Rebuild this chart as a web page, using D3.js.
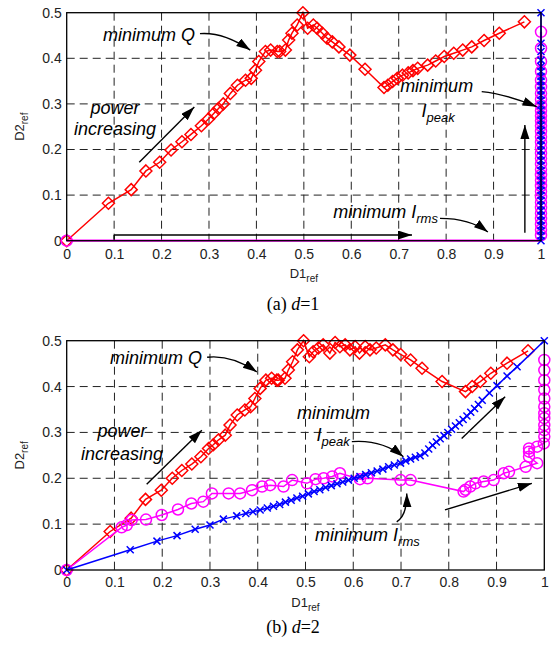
<!DOCTYPE html>
<html><head><meta charset="utf-8">
<script src="https://cdn.jsdelivr.net/npm/d3@7"></script>
<style>body{margin:0;background:#fff}svg{display:block}</style>
</head><body>
<script>
// ---------- DATA ----------
const xTicks = [0,0.1,0.2,0.3,0.4,0.5,0.6,0.7,0.8,0.9,1];
const xTickLabels = ["0","0.1","0.2","0.3","0.4","0.5","0.6","0.7","0.8","0.9","1"];
const yTicks = [0,0.1,0.2,0.3,0.4,0.5];
const yTickLabels = ["0","0.1","0.2","0.3","0.4","0.5"];

// (a) d=1 : minimum Q (red diamonds)
const d1Q = [[0,0],[0.088,0.082],[0.136,0.112],[0.167,0.153],[0.196,0.172],[0.22,0.199],[0.243,0.217],[0.262,0.233],[0.284,0.252],[0.299,0.267],[0.31,0.279],[0.32,0.29],[0.33,0.3],[0.345,0.323],[0.36,0.341],[0.377,0.352],[0.389,0.356],[0.398,0.374],[0.405,0.393],[0.419,0.415],[0.43,0.418],[0.444,0.415],[0.449,0.415],[0.461,0.418],[0.468,0.44],[0.475,0.455],[0.486,0.473],[0.498,0.5],[0.508,0.466],[0.52,0.473],[0.528,0.466],[0.539,0.455],[0.549,0.444],[0.56,0.436],[0.574,0.425],[0.597,0.407],[0.629,0.376],[0.669,0.336],[0.677,0.341],[0.687,0.349],[0.697,0.356],[0.708,0.363],[0.72,0.368],[0.73,0.373],[0.74,0.378],[0.761,0.385],[0.778,0.394],[0.796,0.404],[0.816,0.411],[0.835,0.418],[0.854,0.425],[0.88,0.439],[0.912,0.455],[0.965,0.48]];
// (a) d=1 : minimum Irms (magenta circles)
const d1Rms = [[0,0],[1,0],[1,0.012],[1,0.024],[1,0.036],[1,0.048],[1,0.06],[1,0.072],[1,0.084],[1,0.096],[1,0.108],[1,0.12],[1,0.132],[1,0.144],[1,0.156],[1,0.168],[1,0.18],[1,0.192],[1,0.204],[1,0.216],[1,0.228],[1,0.24],[1,0.252],[1,0.263],[1,0.274],[1,0.285],[1,0.297],[1,0.31],[1,0.323],[1,0.337],[1,0.352],[1,0.371],[1,0.393],[1,0.422],[1,0.458]];
const d1RmsMarked = [true].concat(d1Rms.slice(1).map((p,i)=>i>0));
// (a) d=1 : minimum Ipeak (blue crosses)
const d1Peak = [[1,0],[1,0.011],[1,0.022],[1,0.033],[1,0.044],[1,0.055],[1,0.066],[1,0.077],[1,0.088],[1,0.099],[1,0.11],[1,0.121],[1,0.132],[1,0.143],[1,0.154],[1,0.165],[1,0.176],[1,0.187],[1,0.198],[1,0.209],[1,0.22],[1,0.231],[1,0.242],[1,0.253],[1,0.264],[1,0.275],[1,0.286],[1,0.297],[1,0.308],[1,0.319],[1,0.33],[1,0.34],[1,0.35],[1,0.36],[1,0.371],[1,0.382],[1,0.396],[1,0.415],[1,0.433],[1,0.5]];

// (b) d=2 : minimum Q
const d2Q = [[0,0],[0.091,0.084],[0.135,0.113],[0.165,0.154],[0.198,0.174],[0.221,0.2],[0.241,0.217],[0.262,0.231],[0.281,0.247],[0.297,0.265],[0.307,0.273],[0.318,0.284],[0.332,0.294],[0.342,0.316],[0.357,0.338],[0.373,0.349],[0.385,0.356],[0.394,0.374],[0.405,0.396],[0.417,0.414],[0.429,0.418],[0.44,0.414],[0.443,0.414],[0.457,0.418],[0.464,0.436],[0.473,0.454],[0.483,0.48],[0.496,0.5],[0.508,0.465],[0.516,0.476],[0.527,0.484],[0.537,0.491],[0.551,0.473],[0.562,0.496],[0.572,0.487],[0.583,0.491],[0.593,0.48],[0.604,0.487],[0.613,0.473],[0.625,0.487],[0.635,0.48],[0.648,0.484],[0.667,0.491],[0.683,0.48],[0.699,0.47],[0.72,0.458],[0.744,0.44],[0.786,0.411],[0.835,0.389],[0.849,0.4],[0.866,0.411],[0.888,0.429],[0.922,0.451],[0.966,0.478]];
// (b) d=2 : minimum Irms
const d2Rms = [[0,0],[0.115,0.093],[0.126,0.098],[0.136,0.109],[0.166,0.11],[0.199,0.12],[0.233,0.132],[0.261,0.145],[0.286,0.149],[0.304,0.167],[0.339,0.167],[0.363,0.167],[0.388,0.174],[0.409,0.182],[0.426,0.185],[0.454,0.182],[0.472,0.196],[0.503,0.189],[0.521,0.198],[0.538,0.2],[0.556,0.204],[0.572,0.211],[0.614,0.198],[0.63,0.2],[0.699,0.196],[0.72,0.196],[0.831,0.171],[0.835,0.175],[0.845,0.182],[0.856,0.189],[0.873,0.193],[0.894,0.196],[0.915,0.211],[0.926,0.214],[0.961,0.225],[0.985,0.233],[0.968,0.247],[0.968,0.258],[0.968,0.265],[0.985,0.269],[0.999,0.276],[1,0.291],[1,0.305],[1,0.316],[1,0.331],[1,0.342],[1,0.356],[1,0.374],[1,0.393],[1,0.414],[1,0.436],[1,0.458]];
// (b) d=2 : minimum Ipeak
const d2Peak = [[0,0],[0.133,0.044],[0.189,0.063],[0.231,0.075],[0.269,0.089],[0.3,0.098],[0.328,0.111],[0.356,0.118],[0.375,0.123],[0.39,0.127],[0.405,0.131],[0.42,0.135],[0.433,0.139],[0.446,0.143],[0.458,0.148],[0.47,0.152],[0.482,0.157],[0.494,0.161],[0.506,0.166],[0.518,0.171],[0.53,0.175],[0.542,0.18],[0.554,0.184],[0.566,0.188],[0.578,0.192],[0.59,0.196],[0.602,0.2],[0.614,0.204],[0.626,0.208],[0.638,0.212],[0.65,0.216],[0.662,0.22],[0.674,0.225],[0.686,0.229],[0.699,0.233],[0.71,0.238],[0.72,0.242],[0.73,0.246],[0.74,0.249],[0.75,0.255],[0.758,0.264],[0.766,0.272],[0.774,0.279],[0.782,0.286],[0.79,0.293],[0.798,0.3],[0.806,0.307],[0.814,0.314],[0.822,0.321],[0.83,0.328],[0.838,0.336],[0.846,0.344],[0.854,0.352],[0.862,0.361],[0.87,0.37],[0.885,0.386],[0.901,0.402],[0.922,0.423],[0.943,0.443],[1,0.5]];

// ---------- DRAW ----------
const svg = d3.select("body").append("svg").attr("width",558).attr("height",650);
svg.append("defs").append("marker").attr("id","ah")
  .attr("markerUnits","userSpaceOnUse").attr("markerWidth",16).attr("markerHeight",10)
  .attr("refX",14).attr("refY",4.5).attr("orient","auto")
  .append("path").attr("d","M0,0 L14,4.5 L0,9 Z").attr("fill","#000");

const SANS = "Arial, 'Liberation Sans', Helvetica, sans-serif";
const SERIF = "'Times New Roman', 'Liberation Serif', serif";

function panel(cfg){
  const x = d3.scaleLinear().domain([0,1]).range([cfg.l,cfg.r]);
  const y = d3.scaleLinear().domain([0,0.5]).range([cfg.b,cfg.t]);
  const g = svg.append("g");
  // grid
  g.selectAll(".vg").data(xTicks.slice(1,-1)).enter().append("line")
    .attr("x1",d=>x(d)).attr("x2",d=>x(d)).attr("y1",cfg.t).attr("y2",cfg.b)
    .attr("stroke","#222").attr("stroke-width",1).attr("stroke-dasharray","8,5");
  g.selectAll(".hg").data(yTicks.slice(1,-1)).enter().append("line")
    .attr("y1",d=>y(d)).attr("y2",d=>y(d)).attr("x1",cfg.l).attr("x2",cfg.r)
    .attr("stroke","#222").attr("stroke-width",1).attr("stroke-dasharray","8,5");
  // axes
  const ax = g.append("g").attr("transform",`translate(0,${cfg.b})`)
    .call(d3.axisBottom(x).tickValues(xTicks).tickFormat((d,i)=>xTickLabels[i]).tickSize(0).tickPadding(cfg.xpad));
  const ay = g.append("g").attr("transform",`translate(${cfg.l},0)`)
    .call(d3.axisLeft(y).tickValues(yTicks).tickFormat((d,i)=>yTickLabels[i]).tickSize(0).tickPadding(5));
  [ax,ay].forEach(a=>{a.select(".domain").remove();
    a.selectAll("text").attr("font-family",SANS).attr("font-size",14).attr("fill","#222");});
  // axis labels
  const xl = g.append("text").attr("x",(cfg.l+cfg.r)/2).attr("y",cfg.xlab).attr("text-anchor","middle")
    .attr("font-family",SANS).attr("font-size",13).attr("fill","#222");
  xl.append("tspan").text("D1");
  xl.append("tspan").attr("font-size",10).attr("dy",4).text("ref");
  const yl = g.append("text").attr("transform",`translate(24,${(cfg.t+cfg.b)/2}) rotate(-90)`).attr("text-anchor","middle")
    .attr("font-family",SANS).attr("font-size",13).attr("fill","#222");
  yl.append("tspan").text("D2");
  yl.append("tspan").attr("font-size",10).attr("dy",4).text("ref");

  const line = d3.line().x(d=>x(d[0])).y(d=>y(d[1]));
  const plot = g.append("g");
  // red Q
  plot.append("path").datum(cfg.Q).attr("d",line).attr("fill","none").attr("stroke","#f00").attr("stroke-width",1.5);
  plot.selectAll(".dq").data(cfg.Q).enter().append("path")
    .attr("transform",d=>`translate(${x(d[0])},${y(d[1])})`).attr("d","M0,-6 L6,0 L0,6 L-6,0 Z")
    .attr("fill","none").attr("stroke","#f00").attr("stroke-width",1.5);
  // magenta Irms
  plot.append("path").datum(cfg.R).attr("d",line).attr("fill","none").attr("stroke","#f0f").attr("stroke-width",cfg.rw);
  plot.selectAll(".dr").data(cfg.R.filter(cfg.rFilter)).enter().append("circle")
    .attr("cx",d=>x(d[0])).attr("cy",d=>y(d[1])).attr("r",5.5)
    .attr("fill","none").attr("stroke","#f0f").attr("stroke-width",1.5);
  // blue Ipeak
  plot.append("path").datum(cfg.P).attr("d",line).attr("fill","none").attr("stroke","#00f").attr("stroke-width",1.5);
  plot.selectAll(".dp").data(cfg.P).enter().append("path")
    .attr("transform",d=>`translate(${x(d[0])},${y(d[1])})`).attr("d","M-3.5,-3.5 L3.5,3.5 M-3.5,3.5 L3.5,-3.5")
    .attr("fill","none").attr("stroke","#00f").attr("stroke-width",1.5);
  // frame
  g.append("rect").attr("x",cfg.l).attr("y",cfg.t).attr("width",cfg.r-cfg.l).attr("height",cfg.b-cfg.t)
    .attr("fill","none").attr("stroke","#000").attr("stroke-width",1.3);
  // caption
  const cap = g.append("text").attr("x",cfg.capx).attr("y",cfg.capy).attr("text-anchor","middle")
    .attr("font-family",SERIF).attr("font-size",18).attr("fill","#000");
  cap.append("tspan").text(cfg.cap[0]+" ");
  cap.append("tspan").attr("font-style","italic").text("d");
  cap.append("tspan").text(cfg.cap[1]);
  return {g,x,y};
}

function txt(P, xd, yd, main, sub, anchor){
  const t = P.g.append("text").attr("x",P.x(xd)).attr("y",P.y(yd)).attr("text-anchor",anchor||"start")
    .attr("font-family",SANS).attr("font-size",18).attr("font-style","italic").attr("fill","#000");
  t.append("tspan").text(main);
  if(sub){ t.append("tspan").attr("font-size",13).attr("dy",5).text(sub); }
}
function arr(P, a, b, c){
  const p = d3.path();
  p.moveTo(P.x(a[0]),P.y(a[1]));
  if(c) p.quadraticCurveTo(P.x(c[0]),P.y(c[1]),P.x(b[0]),P.y(b[1]));
  else p.lineTo(P.x(b[0]),P.y(b[1]));
  P.g.append("path").attr("d",p.toString()).attr("fill","none").attr("stroke","#000").attr("stroke-width",1.4).attr("marker-end","url(#ah)");
}

// Panel (a)
const A = panel({l:66.7,r:541,t:12.7,b:240.7,xpad:8,xlab:278,Q:d1Q,R:d1Rms,P:d1Peak,rw:2.2,
  rFilter:(d,i)=>i===0||d[0]===1 && i>1, cap:["(a)","=1"],capx:293,capy:310});
txt(A,0.0765,0.438,"minimum Q");
arr(A,[0.281,0.454],[0.387,0.418],[0.33,0.458]);
txt(A,0.102,0.278,"power",null,"middle");
txt(A,0.102,0.232,"increasing",null,"middle");
arr(A,[0.153,0.172],[0.269,0.293]);
A.g.append("path").attr("d",`M${A.x(0.1)},${A.y(0.002)} L${A.x(0.1)},${A.y(0.0125)}`).attr("stroke","#000").attr("stroke-width",1.4);
arr(A,[0.1,0.0125],[0.728,0.0125]);
txt(A,0.562,0.049,"minimum I","rms");
arr(A,[0.787,0.049],[0.888,0.019],[0.85,0.049]);
arr(A,[0.966,0.0175],[0.966,0.254]);
txt(A,0.703,0.326,"minimum");
txt(A,0.748,0.271,"I","peak");
arr(A,[0.875,0.327],[0.991,0.294],[0.924,0.322]);

// Panel (b)
const B = panel({l:66.7,r:544.3,t:340.7,b:570,xpad:7,xlab:607,Q:d2Q,R:d2Rms,P:d2Peak,rw:1.5,
  rFilter:()=>true, cap:["(b)","=2"],capx:293,capy:633});
txt(B,0.0907,0.449,"minimum Q");
arr(B,[0.294,0.464],[0.398,0.432],[0.345,0.47]);
txt(B,0.116,0.29,"power",null,"middle");
txt(B,0.116,0.24,"increasing",null,"middle");
arr(B,[0.1675,0.187],[0.283,0.305]);
txt(B,0.482,0.329,"minimum");
txt(B,0.523,0.281,"I","peak");
arr(B,[0.597,0.28],[0.705,0.247],[0.66,0.285]);
txt(B,0.52,0.063,"minimum I","rms");
arr(B,[0.691,0.105],[0.712,0.167],[0.713,0.12]);
arr(B,[0.827,0.287],[0.918,0.378]);
arr(B,[0.792,0.131],[0.974,0.189]);
</script>
</body></html>
